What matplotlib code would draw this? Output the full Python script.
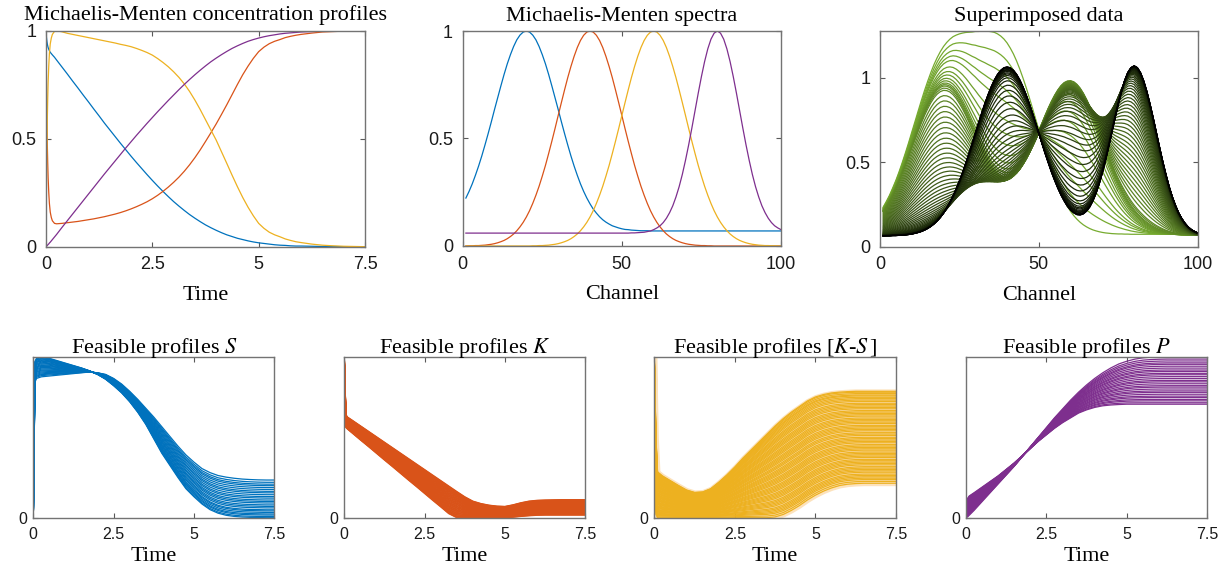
import numpy as np
import matplotlib
matplotlib.use('Agg')
import matplotlib.pyplot as plt
from matplotlib.colors import LinearSegmentedColormap

plt.rcParams['font.family'] = ['Liberation Sans', 'DejaVu Sans']
plt.rcParams['mathtext.fontset'] = 'stix'
SERIF = ['Liberation Serif', 'DejaVu Serif']

# ---------------- colours (MATLAB default order) ----------------
C_BLUE, C_RED, C_YEL, C_PUR, C_GREEN = '#0072BD', '#D95319', '#EDB120', '#7E2F8E', '#77AC30'

# ---------------- concentration profiles (normalised) ----------------
t_profile = [0, 0.005, 0.01, 0.015, 0.02, 0.03, 0.04, 0.05, 0.065, 0.08, 0.1, 0.125, 0.15, 0.2,
             0.25, 0.375, 0.5, 0.625, 0.75, 0.875, 1.0,
             1.125, 1.25, 1.375, 1.5, 1.625, 1.75, 1.875, 2.0,
             2.125, 2.25, 2.375, 2.5, 2.625, 2.75, 2.875, 3.0,
             3.125, 3.25, 3.375, 3.5, 3.625, 3.75, 3.875, 4.0,
             4.125, 4.25, 4.375, 4.5, 4.625, 4.75, 4.875, 5.0,
             5.125, 5.25, 5.375, 5.5, 5.625, 5.75, 5.875, 6.0,
             6.25, 6.5, 6.75, 7.0, 7.25, 7.5]

conc_S = [1.0, 0.985, 0.972, 0.962, 0.953, 0.94, 0.93, 0.922, 0.914, 0.907, 0.9, 0.894, 0.888, 0.877,
          0.864, 0.832, 0.800, 0.767, 0.735, 0.702, 0.670,
          0.637, 0.605, 0.572, 0.541, 0.51, 0.479, 0.449, 0.419,
          0.39, 0.362, 0.334, 0.307, 0.281, 0.256, 0.232, 0.209,
          0.188, 0.168, 0.149, 0.132, 0.116, 0.101, 0.088, 0.076,
          0.065, 0.055, 0.047, 0.039, 0.033, 0.027, 0.022, 0.018,
          0.015, 0.012, 0.009, 0.007, 0.006, 0.004, 0.003, 0.003,
          0.002, 0.001, 0.001, 0.0, 0.0, 0.0]

conc_K = [1.0, 0.88, 0.77, 0.68, 0.6, 0.48, 0.39, 0.32, 0.25, 0.2, 0.16, 0.135, 0.12, 0.108,
          0.106, 0.108, 0.111, 0.114, 0.117, 0.121, 0.125,
          0.129, 0.134, 0.139, 0.145, 0.151, 0.158, 0.166, 0.175,
          0.185, 0.196, 0.208, 0.222, 0.238, 0.256, 0.276, 0.298,
          0.322, 0.349, 0.379, 0.412, 0.448, 0.487, 0.527, 0.568,
          0.612, 0.657, 0.704, 0.751, 0.796, 0.836, 0.872, 0.903,
          0.924, 0.94, 0.951, 0.959, 0.968, 0.974, 0.979, 0.983,
          0.989, 0.994, 0.996, 0.998, 0.999, 1.0]

conc_KS = [0.0, 0.134, 0.257, 0.358, 0.447, 0.581, 0.682, 0.76, 0.838, 0.894, 0.939, 0.966, 0.983, 0.997,
           1.0, 0.995, 0.988, 0.983, 0.978, 0.973, 0.968,
           0.963, 0.958, 0.953, 0.948, 0.943, 0.937, 0.932, 0.926,
           0.918, 0.909, 0.899, 0.887, 0.871, 0.853, 0.833, 0.81,
           0.784, 0.754, 0.719, 0.679, 0.635, 0.588, 0.541, 0.494,
           0.44, 0.386, 0.331, 0.278, 0.228, 0.183, 0.143, 0.108,
           0.085, 0.067, 0.055, 0.046, 0.036, 0.029, 0.023, 0.019,
           0.012, 0.007, 0.004, 0.002, 0.001, 0.0]

conc_P = [0.0, 0.001, 0.002, 0.003, 0.004, 0.006, 0.008, 0.01, 0.013, 0.017, 0.021, 0.027, 0.033, 0.045,
          0.057, 0.089, 0.12, 0.151, 0.182, 0.213, 0.244,
          0.275, 0.306, 0.337, 0.367, 0.397, 0.427, 0.457, 0.486,
          0.515, 0.543, 0.571, 0.598, 0.625, 0.651, 0.677, 0.702,
          0.727, 0.751, 0.774, 0.796, 0.817, 0.837, 0.856, 0.873,
          0.889, 0.904, 0.918, 0.93, 0.941, 0.951, 0.959, 0.966,
          0.972, 0.977, 0.981, 0.985, 0.988, 0.99, 0.992, 0.994,
          0.996, 0.998, 0.999, 1.0, 1.0, 1.0]

# ---------------- pure spectra (normalised), channels 1..100 ----------------
channel = list(range(1, 101))

spec_S = ([0.223, 0.254, 0.289, 0.329, 0.372, 0.419, 0.470, 0.523, 0.578, 0.635,
           0.690, 0.745, 0.798, 0.847, 0.890, 0.928, 0.959, 0.981, 0.995, 1.0,
           0.995, 0.981, 0.959, 0.928, 0.890, 0.847, 0.798, 0.745, 0.690, 0.635,
           0.578, 0.523, 0.470, 0.419, 0.372, 0.329, 0.289, 0.254, 0.223, 0.196,
           0.172, 0.153, 0.136, 0.122, 0.111, 0.102, 0.094, 0.089, 0.084, 0.080,
           0.077, 0.076, 0.074, 0.073, 0.072, 0.071, 0.071, 0.071, 0.070, 0.070]
          + [0.07] * 40)

spec_K = ([0.0, 0.001, 0.001, 0.002, 0.002, 0.003, 0.004, 0.006, 0.008, 0.011,
           0.015, 0.020, 0.026, 0.034, 0.044, 0.056, 0.071, 0.089, 0.110, 0.135,
           0.164, 0.198, 0.236, 0.278, 0.325, 0.375, 0.430, 0.487, 0.546, 0.607,
           0.667, 0.726, 0.783, 0.835, 0.882, 0.923, 0.956, 0.980, 0.995, 1.0,
           0.995, 0.980, 0.956, 0.923, 0.882, 0.835, 0.783, 0.726, 0.667, 0.607,
           0.546, 0.487, 0.430, 0.375, 0.325, 0.278, 0.236, 0.198, 0.164, 0.135,
           0.110, 0.089, 0.071, 0.056, 0.044, 0.034, 0.026, 0.020, 0.015, 0.011,
           0.008, 0.006, 0.004, 0.003, 0.002, 0.002, 0.001, 0.001, 0.0, 0.0]
          + [0.0] * 20)

spec_KS = ([0.0] * 20
           + [0.0, 0.001, 0.001, 0.002, 0.002, 0.003, 0.004, 0.006, 0.008, 0.011,
              0.015, 0.020, 0.026, 0.034, 0.044, 0.056, 0.071, 0.089, 0.110, 0.135,
              0.164, 0.198, 0.236, 0.278, 0.325, 0.375, 0.430, 0.487, 0.546, 0.607,
              0.667, 0.726, 0.783, 0.835, 0.882, 0.923, 0.956, 0.980, 0.995, 1.0,
              0.995, 0.980, 0.956, 0.923, 0.882, 0.835, 0.783, 0.726, 0.667, 0.607,
              0.546, 0.487, 0.430, 0.375, 0.325, 0.278, 0.236, 0.198, 0.164, 0.135,
              0.110, 0.089, 0.071, 0.056, 0.044, 0.034, 0.026, 0.020, 0.015, 0.011,
              0.008, 0.006, 0.004, 0.003, 0.002, 0.002, 0.001, 0.001, 0.0, 0.0])

spec_P = ([0.06] * 50
          + [0.060, 0.060, 0.061, 0.061, 0.062, 0.063, 0.064, 0.067, 0.070, 0.076,
             0.084, 0.094, 0.109, 0.129, 0.155, 0.187, 0.228, 0.276, 0.333, 0.399,
             0.471, 0.549, 0.630, 0.711, 0.788, 0.858, 0.917, 0.962, 0.990, 1.0,
             0.990, 0.962, 0.917, 0.858, 0.788, 0.711, 0.630, 0.549, 0.471, 0.399,
             0.333, 0.276, 0.228, 0.187, 0.155, 0.129, 0.109, 0.094, 0.084, 0.076])

# scale of each species in the measured data
component_scale = [1.05, 1.0, 0.9, 1.07]

# ---------------- feasible bands: two extreme profiles + member fractions ----------------
t_band = [0, 0.05, 0.1, 0.25, 0.5, 0.75, 1.0, 1.25, 1.5, 1.75, 2.0, 2.25, 2.5, 2.75, 3.0,
          3.25, 3.5, 3.75, 4.0, 4.25, 4.5, 4.75, 5.0, 5.25, 5.5, 5.75, 6.0, 6.25, 6.5, 6.75,
          7.0, 7.25, 7.5]

bandS_a = [0.0, 0.97, 0.99, 0.998, 0.99, 0.975, 0.96, 0.945, 0.93, 0.912, 0.89, 0.86, 0.82,
           0.775, 0.72, 0.655, 0.58, 0.49, 0.40, 0.325, 0.25, 0.18, 0.13, 0.085, 0.05, 0.028,
           0.015, 0.008, 0.004, 0.002, 0.001, 0.0, 0.0]
bandS_b = [0.0, 0.84, 0.865, 0.875, 0.88, 0.885, 0.89, 0.895, 0.9, 0.905, 0.9, 0.89, 0.865,
           0.83, 0.785, 0.735, 0.68, 0.625, 0.565, 0.505, 0.445, 0.39, 0.345, 0.305, 0.28,
           0.262, 0.252, 0.245, 0.24, 0.237, 0.235, 0.234, 0.234]

bandK_a = [1.0, 0.64, 0.625, 0.605, 0.571, 0.537, 0.503, 0.469, 0.435, 0.401, 0.367, 0.333,
           0.299, 0.265, 0.231, 0.197, 0.163, 0.13, 0.103, 0.088, 0.078, 0.072, 0.07, 0.08,
           0.093, 0.103, 0.108, 0.11, 0.111, 0.112, 0.112, 0.112, 0.112]
bandK_b = [0.95, 0.56, 0.55, 0.525, 0.483, 0.442, 0.4, 0.358, 0.317, 0.275, 0.233, 0.192, 0.15,
           0.108, 0.067, 0.025, 0.0, 0.0, 0.0, 0.0, 0.0, 0.0, 0.0, 0.003, 0.008, 0.012, 0.015,
           0.016, 0.016, 0.016, 0.016, 0.016, 0.016]

bandKS_a = [1.0, 0.5, 0.285, 0.26, 0.23, 0.2, 0.172, 0.157, 0.16, 0.18, 0.22, 0.265, 0.315,
            0.37, 0.42, 0.47, 0.52, 0.57, 0.615, 0.655, 0.69, 0.725, 0.75, 0.765, 0.775, 0.78,
            0.783, 0.785, 0.785, 0.785, 0.785, 0.785, 0.785]
bandKS_b = [0.9, 0.02, 0.0, 0.0, 0.0, 0.0, 0.0, 0.0, 0.0, 0.0, 0.0, 0.0, 0.0, 0.0, 0.0, 0.0,
            0.0, 0.005, 0.02, 0.045, 0.075, 0.11, 0.14, 0.165, 0.185, 0.2, 0.208, 0.212, 0.214,
            0.214, 0.214, 0.214, 0.214]

bandP_a = [0.09, 0.12, 0.135, 0.155, 0.19, 0.225, 0.26, 0.3, 0.34, 0.385, 0.43, 0.475, 0.515,
           0.555, 0.59, 0.62, 0.65, 0.67, 0.685, 0.695, 0.7, 0.703, 0.705, 0.705, 0.705, 0.705,
           0.705, 0.705, 0.705, 0.705, 0.705, 0.705, 0.705]
bandP_b = [0.0, 0.005, 0.015, 0.045, 0.1, 0.155, 0.21, 0.265, 0.32, 0.38, 0.44, 0.5, 0.56,
           0.62, 0.675, 0.73, 0.78, 0.825, 0.865, 0.9, 0.93, 0.955, 0.972, 0.985, 0.993, 0.997,
           0.999, 1.0, 1.0, 1.0, 1.0, 1.0, 1.0]

members_S = [0.0, 0.03, 0.07, 0.1, 0.14, 0.18, 0.21, 0.26, 0.3, 0.34, 0.39, 0.43, 0.47, 0.52,
             0.56, 0.61, 0.66, 0.7, 0.75, 0.8, 0.85, 0.89, 0.94, 1.0]
members_K = [0, 0.02, 0.05, 0.08, 0.1, 0.13, 0.15, 0.18, 0.2, 0.23, 0.26, 0.28, 0.31, 0.33, 0.36,
             0.38, 0.41, 0.44, 0.46, 0.49, 0.51, 0.54, 0.57, 0.59, 0.62, 0.64, 0.67, 0.7, 0.72,
             0.75, 0.77, 0.8, 0.83, 0.85, 0.88, 0.9, 0.93, 0.95, 0.98, 1.0]
members_KS = [0, 0.01, 0.025, 0.04, 0.05, 0.065, 0.08, 0.095, 0.11, 0.13, 0.145, 0.16, 0.175,
              0.19, 0.21, 0.225, 0.24, 0.255, 0.27, 0.29, 0.305, 0.32, 0.335, 0.35, 0.37, 0.385,
              0.4, 0.415, 0.43, 0.45, 0.465, 0.48, 0.5, 0.515, 0.53, 0.545, 0.56, 0.58, 0.595,
              0.61, 0.625, 0.64, 0.66, 0.675, 0.69, 0.705, 0.72, 0.74, 0.755, 0.77, 0.785, 0.8,
              0.82, 0.835, 0.85, 0.865, 0.88, 0.9, 0.915, 0.93, 0.945, 0.96, 0.98, 1.0]
members_P = [0, 0.03, 0.07, 0.1, 0.14, 0.17, 0.21, 0.25, 0.28, 0.32, 0.36, 0.39, 0.43, 0.47,
             0.5, 0.54, 0.58, 0.62, 0.65, 0.69, 0.72, 0.76, 0.8, 0.84, 0.87, 0.91, 0.95, 1.0]

time_ticks = [0, 2.5, 5, 7.5]
time_ticklabels = ['0', '2.5', '5', '7.5']

# ---------------- figure ----------------
W, H = 1228, 572
fig = plt.figure(figsize=(W / 100, H / 100), dpi=100)


def rect(x0, y0, x1, y1):
    return [x0 / W, 1 - y1 / H, (x1 - x0) / W, (y1 - y0) / H]


FRAME = '0.45'
TITLE_FS = 16
LABEL_FS = 16
TOP_TITLE_PAD = 7.5


def style(ax, fs, xpad, ypad):
    ax.tick_params(direction='in', top=True, right=True, length=3.5, width=0.8,
                   color='0.35', labelsize=fs, labelcolor='#1a1a1a')
    ax.tick_params(axis='x', pad=xpad)
    ax.tick_params(axis='y', pad=ypad)
    for sp in ax.spines.values():
        sp.set_color(FRAME)
        sp.set_linewidth(1.0)


# Panel 1
ax1 = fig.add_axes(rect(46, 30.7, 365, 246.7))
tp = np.array(t_profile)
for c, col in zip([conc_S, conc_K, conc_KS, conc_P], [C_BLUE, C_RED, C_YEL, C_PUR]):
    ax1.plot(tp, c, color=col, lw=0.9)
ax1.set_xlim(0, 7.5)
ax1.set_ylim(0, 1)
ax1.set_xticks(time_ticks)
ax1.set_xticklabels(time_ticklabels)
ax1.set_yticks([0, 0.5, 1])
ax1.set_yticklabels(['0', '0.5', '1'])
style(ax1, 13, 7, 7)
ax1.set_title('Michaelis-Menten concentration profiles', fontfamily=SERIF, fontsize=TITLE_FS,
              pad=TOP_TITLE_PAD)
ax1.set_xlabel('Time', fontfamily=SERIF, fontsize=LABEL_FS, labelpad=9)

# Panel 2
ax2 = fig.add_axes(rect(462.7, 31, 781, 246))
ch = np.array(channel)
for s, col in zip([spec_S, spec_K, spec_KS, spec_P], [C_BLUE, C_RED, C_YEL, C_PUR]):
    ax2.plot(ch, s, color=col, lw=0.9)
ax2.set_xlim(0, 100)
ax2.set_ylim(0, 1)
ax2.set_xticks([0, 50, 100])
ax2.set_yticks([0, 0.5, 1])
ax2.set_yticklabels(['0', '0.5', '1'])
style(ax2, 13, 7, 7)
ax2.set_title('Michaelis-Menten spectra', fontfamily=SERIF, fontsize=TITLE_FS, pad=TOP_TITLE_PAD)
ax2.set_xlabel('Channel', fontfamily=SERIF, fontsize=LABEL_FS, labelpad=9)

# Panel 3: superimposed data D = C * diag(scale) * S^T
ax3 = fig.add_axes(rect(880, 31, 1197.7, 246.7))
Cm = np.column_stack([conc_S, conc_K, conc_KS, conc_P]) * np.array(component_scale)
Sm = np.vstack([spec_S, spec_K, spec_KS, spec_P])
D = Cm @ Sm
cmap = LinearSegmentedColormap.from_list('gk', [C_GREEN, '#000000'])
n = D.shape[0]
for i in range(n):
    ax3.plot(ch, D[i], color=cmap(i / (n - 1)), lw=0.9)
ax3.set_xlim(0, 100)
ax3.set_ylim(0, D.max())
ax3.set_xticks([0, 50, 100])
ax3.set_yticks([0, 0.5, 1])
ax3.set_yticklabels(['0', '0.5', '1'])
style(ax3, 13, 7, 7)
ax3.set_title('Superimposed data', fontfamily=SERIF, fontsize=TITLE_FS, pad=TOP_TITLE_PAD)
ax3.set_xlabel('Channel', fontfamily=SERIF, fontsize=LABEL_FS, labelpad=9)

# Bottom row
tb = np.array(t_band)
bottom_specs = [
    (rect(33.3, 356.7, 274.3, 517.7), bandS_a, bandS_b, members_S, C_BLUE, None, 'Feasible profiles $S$'),
    (rect(344.3, 356.7, 585.3, 517.7), bandK_a, bandK_b, members_K, C_RED, None, 'Feasible profiles $K$'),
    (rect(654.3, 356.7, 896, 517.7), bandKS_a, bandKS_b, members_KS, C_YEL, '#FCE2BC',
     'Feasible profiles [$K$-$S\\,$]'),
    (rect(966, 356.7, 1207.3, 517.7), bandP_a, bandP_b, members_P, C_PUR, None, 'Feasible profiles $P$'),
]
for r, a, b, members, col, fill, title in bottom_specs:
    ax = fig.add_axes(r)
    a = np.array(a)
    b = np.array(b)
    if fill is not None:
        ax.fill_between(tb, np.minimum(a, b), np.maximum(a, b), color=fill, lw=3.5, edgecolor=fill)
    for w in members:
        ax.plot(tb, a + w * (b - a), color=col, lw=0.9)
    ax.set_xlim(0, 7.5)
    ax.set_ylim(0, 1.0)
    ax.set_xticks(time_ticks)
    ax.set_xticklabels(time_ticklabels)
    ax.set_yticks([0])
    ax.set_yticklabels(['0'])
    style(ax, 11.5, 6.5, 4)
    ax.tick_params(axis='y', right=False)
    ax.set_title(title, fontfamily=SERIF, fontsize=TITLE_FS, pad=2.5)
    ax.set_xlabel('Time', fontfamily=SERIF, fontsize=LABEL_FS, labelpad=4)

fig.savefig('out.png', dpi=100)
